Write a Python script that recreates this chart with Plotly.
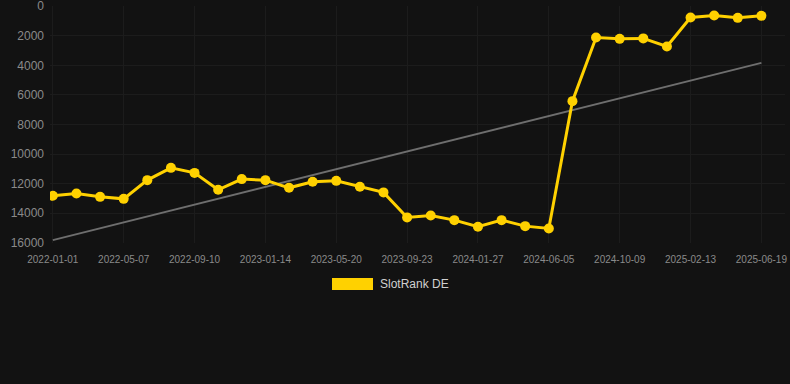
import plotly.graph_objects as go

dates = [
    "2022-01-01", "2022-02-12", "2022-03-26", "2022-05-07", "2022-06-18", "2022-07-30",
    "2022-09-10", "2022-10-22", "2022-12-03", "2023-01-14", "2023-02-25", "2023-04-08",
    "2023-05-20", "2023-07-01", "2023-08-12", "2023-09-23", "2023-11-04", "2023-12-16",
    "2024-01-27", "2024-03-10", "2024-04-23", "2024-06-05", "2024-07-17", "2024-08-28",
    "2024-10-09", "2024-11-20", "2025-01-02", "2025-02-13", "2025-03-27", "2025-05-08",
    "2025-06-19",
]
ranks = [
    12820, 12660, 12890, 13025, 11760, 10930,
    11270, 12415, 11690, 11760, 12280, 11875,
    11810, 12210, 12590, 14280, 14150, 14465,
    14915, 14465, 14870, 15025, 6420, 2115,
    2210, 2180, 2725, 765, 630, 790,
    655,
]
trend_dates = [dates[0], dates[-1]]
trend_values = [15817, 3833]
tick_labels = dates[::3]
y_ticks = [0, 2000, 4000, 6000, 8000, 10000, 12000, 14000, 16000]
series_name = "SlotRank DE"

bg = "#121212"
gold = "#FFD100"
grid = "#1c1c1c"

fig = go.Figure()
fig.add_trace(go.Scatter(
    x=trend_dates, y=trend_values, mode="lines",
    line=dict(color="#6e6e6e", width=2), showlegend=False, hoverinfo="skip",
))
fig.add_trace(go.Scatter(
    x=dates, y=ranks, mode="lines+markers", name=series_name,
    line=dict(color=gold, width=3),
    marker=dict(color=gold, size=10),
    showlegend=False,
))

fig.update_layout(
    width=790, height=384,
    paper_bgcolor=bg, plot_bgcolor=bg,
    margin=dict(l=50, r=5, t=6, b=141),
    font=dict(family="Arial, Liberation Sans, sans-serif", color="#8a8a8a"),
    xaxis=dict(
        type="category", categoryorder="array", categoryarray=dates,
        range=[-0.12, 31.0],
        tickmode="array", tickvals=tick_labels, ticktext=tick_labels,
        tickfont=dict(size=10, color="#8a8a8a"),
        showgrid=True, gridcolor=grid, gridwidth=1,
        zeroline=False, showline=False, ticks="", ticklen=0,
        ticklabelstandoff=9, automargin=False, ticklabeloverflow="allow",
    ),
    yaxis=dict(
        range=[16010, -10],
        tickmode="array", tickvals=y_ticks,
        ticktext=[str(v) for v in y_ticks],
        tickfont=dict(size=12, color="#8a8a8a"),
        showgrid=True, gridcolor=grid, gridwidth=1,
        zeroline=False, showline=False, ticks="",
        ticklabelstandoff=5,
        automargin=False, ticklabeloverflow="allow",
    ),
    shapes=[dict(
        type="rect", xref="paper", yref="paper",
        x0=(332 - 50) / 735, x1=(373 - 50) / 735,
        y0=(243 - 290) / 237, y1=(243 - 278) / 237,
        fillcolor=gold, line=dict(width=0),
    )],
    annotations=[dict(
        text=series_name, xref="paper", yref="paper",
        x=(378 - 50) / 735, y=(243 - 284) / 237,
        xanchor="left", yanchor="middle", showarrow=False,
        font=dict(size=12, color="#d0d0d0"),
    )],
)

fig.write_html(
    "out.html",
    config={"displayModeBar": False},
    post_script="document.body.style.margin='0';document.body.style.background='#121212';",
)
